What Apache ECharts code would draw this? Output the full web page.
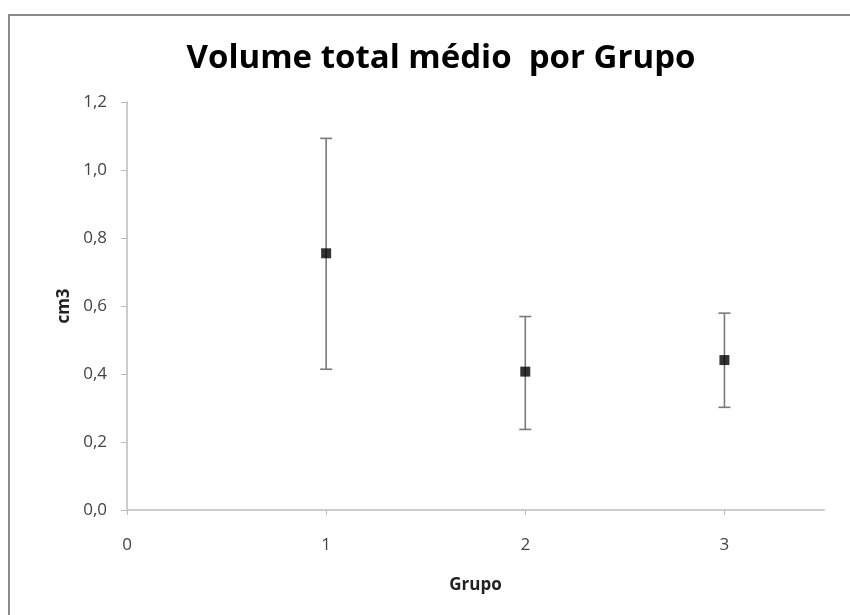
<!DOCTYPE html>
<html>
<head>
<meta charset="utf-8">
<script src="https://cdn.jsdelivr.net/npm/echarts@6/dist/echarts.min.js"></script>
<style>
html,body{margin:0;padding:0;background:#fff;}
#frame{position:absolute;left:8px;top:14px;width:842px;height:601px;border-top:2px solid #8a8a8a;border-left:2px solid #8a8a8a;}
#chart{position:absolute;left:0;top:0;width:850px;height:615px;}
</style>
</head>
<body>
<div id="frame"></div>
<div id="chart"></div>
<script>
var groups = [1, 2, 3];
var means = [0.755, 0.407, 0.441];
var lowers = [0.414, 0.237, 0.302];
var uppers = [1.093, 0.569, 0.579];
var xTicks = [0, 1, 2, 3];
var yTicks = [0, 0.2, 0.4, 0.6, 0.8, 1.0, 1.2];

var errData = groups.map(function (g, i) { return [g, lowers[i], uppers[i]]; });
var ptData = groups.map(function (g, i) { return [g, means[i]]; });

var chart = echarts.init(document.getElementById('chart'));
var font = '"Open Sans", "Liberation Sans", sans-serif';
chart.setOption({
  animation: false,
  title: {
    text: 'Volume total médio  por Grupo',
    left: 436, top: 37, textAlign: 'center',
    textStyle: { fontFamily: font, fontWeight: 'bold', fontSize: 33, color: '#000' }
  },
  grid: { left: 127, right: 26, top: 102, bottom: 105 },
  xAxis: {
    type: 'value', min: 0, max: 3.5, interval: 1,
    name: 'Grupo', nameLocation: 'middle', nameGap: 67,
    nameTextStyle: { fontFamily: font, fontWeight: 'bold', fontSize: 17, color: '#222' },
    axisLine: { show: true, lineStyle: { color: '#cccccc', width: 2 } },
    axisTick: { show: true, length: 5, lineStyle: { color: '#bdbdbd' }, customValues: xTicks },
    axisLabel: { margin: 27, fontFamily: font, fontSize: 17, color: '#444', customValues: xTicks,
      formatter: function (v) { return String(v); } },
    splitLine: { show: false }
  },
  yAxis: {
    type: 'value', min: 0, max: 1.2, interval: 0.2,
    name: 'cm3', nameLocation: 'middle', nameGap: 53, nameRotate: 90,
    nameTextStyle: { fontFamily: font, fontWeight: 'bold', fontSize: 17, color: '#222' },
    axisLine: { show: true, lineStyle: { color: '#cccccc', width: 2 } },
    axisTick: { show: true, length: 6, lineStyle: { color: '#bdbdbd' } },
    axisLabel: { margin: 20, fontFamily: font, fontSize: 17, color: '#444',
      formatter: function (v) { return v.toFixed(1).replace('.', ','); } },
    splitLine: { show: false }
  },
  series: [
    {
      type: 'custom',
      data: errData,
      encode: { x: 0, y: [1, 2] },
      renderItem: function (params, api) {
        var x = api.value(0);
        var lo = api.coord([x, api.value(1)]);
        var hi = api.coord([x, api.value(2)]);
        var hw = 6;
        var st = { stroke: '#7a7a7a', lineWidth: 1.6 };
        return {
          type: 'group',
          children: [
            { type: 'line', shape: { x1: lo[0], y1: lo[1], x2: hi[0], y2: hi[1] }, style: st },
            { type: 'line', shape: { x1: lo[0] - hw, y1: lo[1], x2: lo[0] + hw, y2: lo[1] }, style: st },
            { type: 'line', shape: { x1: hi[0] - hw, y1: hi[1], x2: hi[0] + hw, y2: hi[1] }, style: st }
          ]
        };
      },
      z: 2
    },
    {
      type: 'scatter',
      data: ptData,
      symbol: 'rect',
      symbolSize: 10,
      itemStyle: { color: '#000' },
      z: 3
    }
  ]
});
</script>
</body>
</html>
